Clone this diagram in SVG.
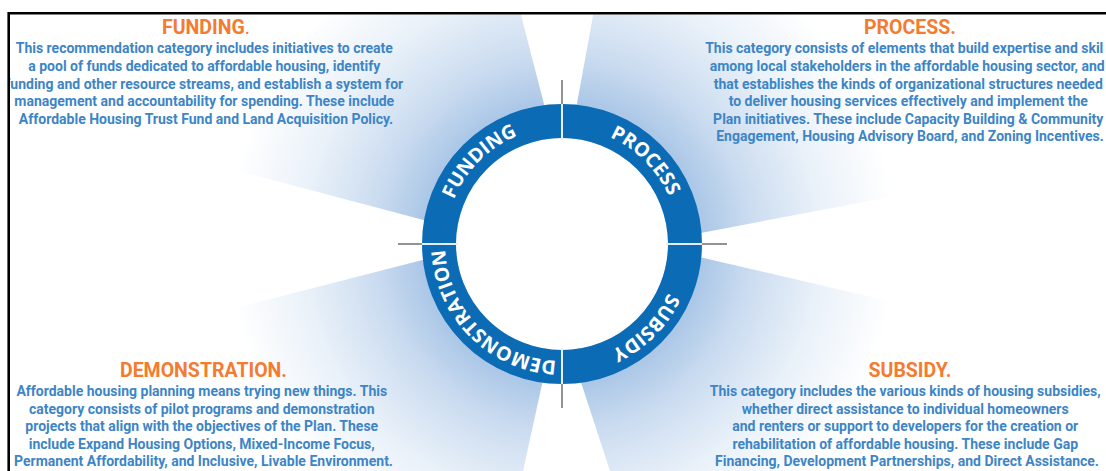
<svg xmlns="http://www.w3.org/2000/svg" width="1106" height="471" viewBox="0 0 1106 471">
<defs>
<radialGradient id="glow" gradientUnits="userSpaceOnUse" cx="562" cy="244" r="380">
<stop offset="0.37" stop-color="#abc7e7"/>
<stop offset="0.5" stop-color="#cbdcf0"/>
<stop offset="0.68" stop-color="#e9f1f9"/>
<stop offset="0.88" stop-color="#ffffff"/>
</radialGradient>
<clipPath id="frame"><rect x="10" y="14.5" width="1096" height="456.5"/></clipPath>
<path id="arcF" d="M448.99,274.28 A117,117 0 0 1 592.28,130.99"/>
<path id="arcP" d="M531.72,130.99 A117,117 0 0 1 675.01,274.28"/>
<path id="arcS" d="M675.01,213.72 A117,117 0 0 1 531.72,357.01"/>
<path id="arcD" d="M592.28,357.01 A117,117 0 0 1 448.99,213.72"/>
</defs>
<style>
.ray{fill:url(#glow)}
.seg{fill:none;stroke:#0b6cb5;stroke-width:34}
.sep{stroke:#e6eff8;stroke-width:2}
.tick{stroke:#6f6f6f;stroke-width:1.5}
.lbl{font-family:"Open Sans","DejaVu Sans",sans-serif;font-weight:700;font-size:19.5px;fill:#ffffff;letter-spacing:0px}
.head{font-family:Roboto,"Liberation Sans",sans-serif;font-weight:700;font-size:19.5px;fill:#f47b2f;text-anchor:middle}
.body{font-family:Roboto,"Liberation Sans",sans-serif;font-weight:700;font-size:14px;fill:#3d85c6;text-anchor:middle}
</style>
<rect width="1106" height="471" fill="#ffffff"/>
<g clip-path="url(#frame)">
<g id="rays">
<polygon class="ray" points="585,263 520.5,13 10,13 10,110"/>
<polygon class="ray" points="548,262 593.5,13 1106,13 1106,156"/>
<polygon class="ray" points="527,217 1106,351.5 1106,471 610,471"/>
<polygon class="ray" points="578,220 523,471 10,471 10,366"/>
</g>
<circle cx="562" cy="244" r="106" fill="#ffffff"/>
<g id="ring-funding">
<path class="seg" d="M439,244 A123,123 0 0 1 562,121"/>
<text class="lbl"><textPath href="#arcF" startOffset="50%" text-anchor="middle">FUNDING</textPath></text>
</g>
<g id="ring-process">
<path class="seg" d="M562,121 A123,123 0 0 1 685,244"/>
<text class="lbl"><textPath href="#arcP" startOffset="50%" text-anchor="middle">PROCESS</textPath></text>
</g>
<g id="ring-subsidy">
<path class="seg" d="M685,244 A123,123 0 0 1 562,367"/>
<text class="lbl"><textPath href="#arcS" startOffset="50%" text-anchor="middle">SUBSIDY</textPath></text>
</g>
<g id="ring-demonstration">
<path class="seg" d="M562,367 A123,123 0 0 1 439,244"/>
<text class="lbl"><textPath href="#arcD" startOffset="50%" text-anchor="middle">DEMONSTRATION</textPath></text>
</g>
<g id="connectors">
<line class="sep" x1="562" y1="104" x2="562" y2="140"/>
<line class="sep" x1="562" y1="348" x2="562" y2="384"/>
<line class="sep" x1="422" y1="244" x2="458" y2="244"/>
<line class="sep" x1="666" y1="244" x2="702" y2="244"/>
<line class="tick" x1="562" y1="80" x2="562" y2="104"/>
<line class="tick" x1="562" y1="384" x2="562" y2="408"/>
<line class="tick" x1="398" y1="244" x2="422" y2="244"/>
<line class="tick" x1="702" y1="244" x2="727" y2="244"/>
</g>
<g id="funding">
<text class="head" x="206" y="34">FUNDING<tspan font-weight="400">.</tspan></text>
<text class="body">
<tspan x="206" y="53.3">This recommendation category includes initiatives to create</tspan>
<tspan x="206" y="71">a pool of funds dedicated to affordable housing, identify</tspan>
<tspan x="206" y="88.6">funding and other resource streams, and establish a system for</tspan>
<tspan x="206" y="106.2">management and accountability for spending. These include</tspan>
<tspan x="206" y="123.8">Affordable Housing Trust Fund and Land Acquisition Policy.</tspan>
</text>
</g>
<g id="process">
<text class="head" x="910" y="34">PROCESS.</text>
<text class="body">
<tspan x="906" y="53.3">This category consists of elements that build expertise and skil</tspan>
<tspan x="909" y="71">among local stakeholders in the affordable housing sector, and</tspan>
<tspan x="910" y="88.6">that establishes the kinds of organizational structures needed</tspan>
<tspan x="910" y="106.2">to deliver housing services effectively and implement the</tspan>
<tspan x="910" y="123.8">Plan initiatives. These include Capacity Building &amp; Community</tspan>
<tspan x="910" y="141.4">Engagement, Housing Advisory Board, and Zoning Incentives.</tspan>
</text>
</g>
<g id="demonstration">
<text class="head" x="203.5" y="377.3">DEMONSTRATION.</text>
<text class="body">
<tspan x="203.5" y="396">Affordable housing planning means trying new things. This</tspan>
<tspan x="203.5" y="413.6">category consists of pilot programs and demonstration</tspan>
<tspan x="203.5" y="431.2">projects that align with the objectives of the Plan. These</tspan>
<tspan x="203.5" y="448.8">include Expand Housing Options, Mixed-Income Focus,</tspan>
<tspan x="203.5" y="466.4">Permanent Affordability, and Inclusive, Livable Environment.</tspan>
</text>
</g>
<g id="subsidy">
<text class="head" x="910" y="377.3">SUBSIDY.</text>
<text class="body">
<tspan x="907" y="396">This category includes the various kinds of housing subsidies,</tspan>
<tspan x="907" y="413.6">whether direct assistance to individual homeowners</tspan>
<tspan x="907" y="431.2">and renters or support to developers for the creation or</tspan>
<tspan x="907" y="448.8">rehabilitation of affordable housing. These include Gap</tspan>
<tspan x="907" y="466.4">Financing, Development Partnerships, and Direct Assistance.</tspan>
</text>
</g>
</g>
<path d="M8.7,471 V13.2 H1106" fill="none" stroke="#000000" stroke-width="2.6"/>
</svg>
